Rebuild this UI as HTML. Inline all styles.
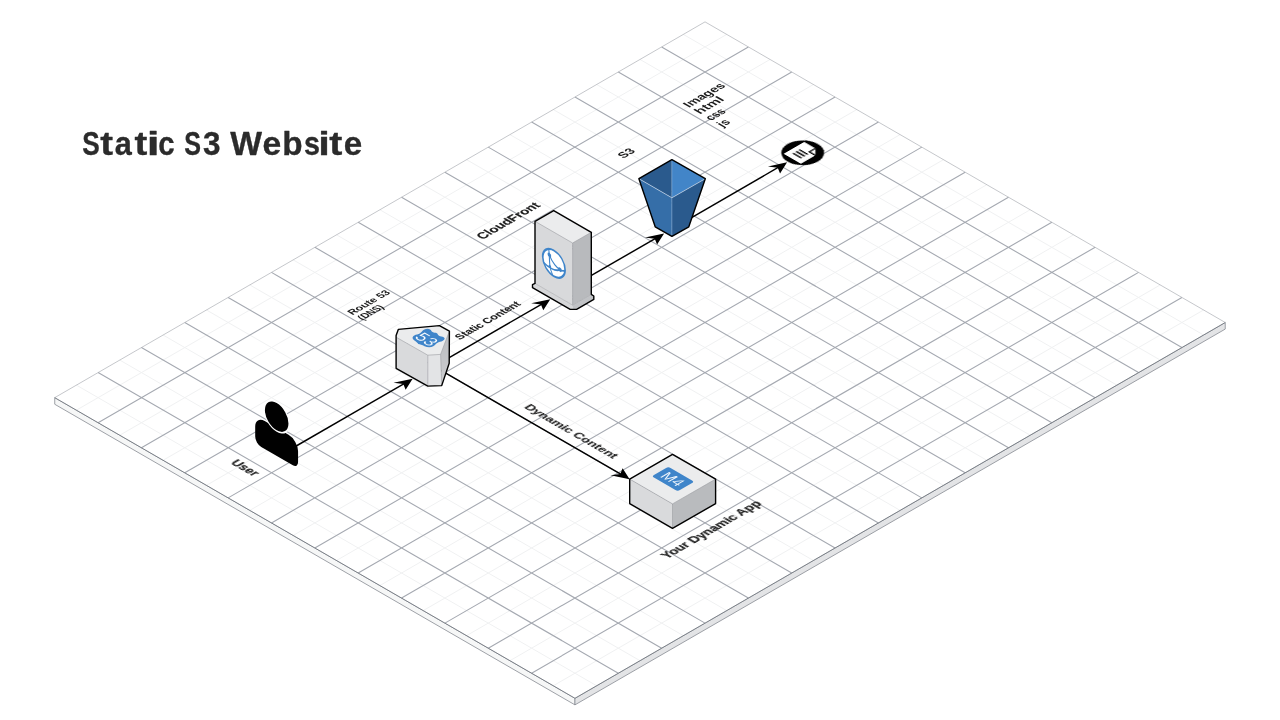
<!DOCTYPE html>
<html lang="en">
<head>
<meta charset="utf-8">
<title>Static S3 Website</title>
<style>
html,body{margin:0;padding:0;background:#fff;}
body{width:1280px;height:720px;overflow:hidden;position:relative;font-family:"Liberation Sans",Arial,sans-serif;}
h1{position:absolute;left:81px;top:124px;margin:0;font-size:33.5px;line-height:38px;font-weight:700;color:#2b2b2b;white-space:nowrap;letter-spacing:0;}
svg{position:absolute;left:0;top:0;display:block;}
</style>
</head>
<body>
<svg width="1280" height="720" viewBox="0 0 1280 720">
<g opacity="0.999">
<g id="platform">
<polygon points="54.74,397.65 574.96,698.27 574.96,704.87 54.74,404.25" fill="#f6f7f7" stroke="#868a92" stroke-width="0.8" stroke-linejoin="round"/>
<polygon points="574.96,698.27 1225.24,322.49 1225.24,329.09 574.96,704.87" fill="#e3e4e6" stroke="#868a92" stroke-width="0.8" stroke-linejoin="round"/>
<polygon points="54.74,397.65 705.02,21.87 1225.24,322.49 574.96,698.27" fill="#ffffff"/>
<path d="M76.42,385.12 L596.64,685.75 M119.77,360.07 L639.99,660.70 M163.12,335.02 L683.34,635.64 M206.47,309.97 L726.70,610.59 M249.82,284.92 L770.05,585.54 M293.18,259.86 L813.40,560.49 M336.53,234.81 L856.75,535.44 M379.88,209.76 L900.10,510.38 M423.23,184.71 L943.46,485.33 M466.58,159.66 L986.81,460.28 M509.94,134.60 L1030.16,435.23 M553.29,109.55 L1073.51,410.18 M596.64,84.50 L1116.86,385.12 M639.99,59.45 L1160.22,360.07 M683.34,34.40 L1203.57,335.02 M76.42,410.18 L726.70,34.40 M119.77,435.23 L770.05,59.45 M163.12,460.28 L813.40,84.50 M206.47,485.33 L856.75,109.55 M249.82,510.38 L900.10,134.60 M293.18,535.44 L943.46,159.66 M336.53,560.49 L986.81,184.71 M379.88,585.54 L1030.16,209.76 M423.23,610.59 L1073.51,234.81 M466.58,635.64 L1116.86,259.86 M509.94,660.70 L1160.22,284.92 M553.29,685.75 L1203.57,309.97" stroke="#f0f1f2" stroke-width="1" fill="none"/>
<path d="M98.09,372.60 L618.32,673.22 M141.44,347.55 L661.67,648.17 M184.80,322.49 L705.02,623.12 M228.15,297.44 L748.37,598.07 M271.50,272.39 L791.72,573.01 M314.85,247.34 L835.08,547.96 M358.20,222.29 L878.43,522.91 M401.56,197.23 L921.78,497.86 M444.91,172.18 L965.13,472.81 M488.26,147.13 L1008.48,447.75 M531.61,122.08 L1051.84,422.70 M574.96,97.03 L1095.19,397.65 M618.32,71.97 L1138.54,372.60 M661.67,46.92 L1181.89,347.55 M98.09,422.70 L748.37,46.92 M141.44,447.75 L791.72,71.97 M184.80,472.81 L835.08,97.03 M228.15,497.86 L878.43,122.08 M271.50,522.91 L921.78,147.13 M314.85,547.96 L965.13,172.18 M358.20,573.01 L1008.48,197.23 M401.56,598.07 L1051.84,222.29 M444.91,623.12 L1095.19,247.34 M488.26,648.17 L1138.54,272.39 M531.61,673.22 L1181.89,297.44" stroke="#a5a9b1" stroke-width="1.1" fill="none"/>
<path d="M54.74,397.65 L705.02,21.87 L1225.24,322.49" stroke="#a6a9af" stroke-width="0.65" fill="none"/>
<path d="M54.74,397.65 L574.96,698.27 L1225.24,322.49" stroke="#7b8088" stroke-width="1.0" fill="none" stroke-linejoin="round"/>
</g>
<g id="labels" opacity="0.999" font-family="'Liberation Sans', Arial, sans-serif" font-weight="700" fill="#1c1c1c" stroke="#1c1c1c" stroke-width="0.2" stroke-linejoin="round">
<text transform="matrix(0.8660,0.5000,-0.8660,0.5000,229.90,463.30)" font-size="12" textLength="27.0" lengthAdjust="spacingAndGlyphs">User</text>
<text transform="matrix(0.8660,-0.5000,0.8660,0.5000,352.50,315.30)" font-size="10.3" textLength="44.6" lengthAdjust="spacingAndGlyphs" stroke="none">Route 53</text>
<text transform="matrix(0.8660,-0.5000,0.8660,0.5000,362.60,320.40)" font-size="10.3" textLength="25.6" lengthAdjust="spacingAndGlyphs" stroke="none">(DNS)</text>
<text transform="matrix(0.8660,-0.5000,0.8660,0.5000,482.50,239.70)" font-size="12.3" textLength="67.7" lengthAdjust="spacingAndGlyphs">CloudFront</text>
<text transform="matrix(0.8660,-0.5000,0.8660,0.5000,623.30,158.80)" font-size="11.5" textLength="14.6" lengthAdjust="spacingAndGlyphs" stroke="none">S3</text>
<text transform="matrix(0.8660,-0.5000,0.8660,0.5000,689.00,107.90)" font-size="12" textLength="43.0" lengthAdjust="spacingAndGlyphs" stroke="none">Images</text>
<text transform="matrix(0.8660,-0.5000,0.8660,0.5000,700.00,114.40)" font-size="12" textLength="29.0" lengthAdjust="spacingAndGlyphs" stroke="none">html</text>
<text transform="matrix(0.8660,-0.5000,0.8660,0.5000,711.00,121.00)" font-size="12" textLength="18.3" lengthAdjust="spacingAndGlyphs" stroke="none">css</text>
<text transform="matrix(0.8660,-0.5000,0.8660,0.5000,722.50,127.50)" font-size="12" textLength="10.0" lengthAdjust="spacingAndGlyphs" stroke="none">js</text>
<text transform="matrix(0.8660,-0.5000,0.8660,0.5000,460.10,340.00)" font-size="10.8" textLength="71.0" lengthAdjust="spacingAndGlyphs" stroke-width="0.1">Static Content</text>
<text transform="matrix(0.8660,0.5000,-0.8660,0.5000,523.50,407.50)" font-size="11.2" textLength="103.0" lengthAdjust="spacingAndGlyphs" stroke-width="0.1">Dynamic Content</text>
<text transform="matrix(0.8660,-0.5000,0.8660,0.5000,667.20,559.20)" font-size="12" textLength="110.0" lengthAdjust="spacingAndGlyphs">Your Dynamic App</text>
</g>
<g id="arrows">
<line x1="293.18" y1="447.75" x2="404.60" y2="383.36" stroke="#000" stroke-width="1.45"/><polygon points="412.65,378.71 393.51,382.76 403.30,384.11 405.64,389.76" fill="#000"/>
<line x1="442.74" y1="361.32" x2="542.24" y2="303.82" stroke="#000" stroke-width="1.45"/><polygon points="550.30,299.17 531.16,303.22 540.94,304.57 543.28,310.22" fill="#000"/>
<line x1="585.80" y1="278.65" x2="656.04" y2="238.06" stroke="#000" stroke-width="1.45"/><polygon points="664.10,233.41 644.96,237.46 654.74,238.81 657.08,244.46" fill="#000"/>
<line x1="689.85" y1="218.53" x2="779.03" y2="166.99" stroke="#000" stroke-width="1.45"/><polygon points="787.09,162.34 767.95,166.39 777.73,167.74 780.07,173.39" fill="#000"/>
<line x1="440.57" y1="370.09" x2="621.58" y2="474.69" stroke="#000" stroke-width="1.45"/><polygon points="629.63,479.34 622.62,468.29 620.28,473.94 610.49,475.29" fill="#000"/>
</g>
<g id="user" transform="matrix(0.8660,0.5000,0,1,255.2,443.6)">
<path d="M7,0 H43.5 A6,6 0 0 0 49.5,-6 V-17 A11,11 0 0 0 38.5,-28 H11 A11,11 0 0 0 0,-17 V-7 A7,7 0 0 0 7,0 Z" fill="#000"/>
<circle cx="24.8" cy="-39.3" r="15.1" fill="#fff"/>
<circle cx="24.8" cy="-39.3" r="13.6" fill="#000"/>
</g>
<g id="r53">
<defs><linearGradient id="gR" x1="0" y1="0" x2="0" y2="1"><stop offset="0" stop-color="#b9bbbe"/><stop offset="1" stop-color="#cdced1"/></linearGradient></defs>
<polygon points="396.10,335.60 398.30,329.40 439.40,325.60 449.40,331.10 440.60,354.40 427.80,355.20 396.10,337.20" fill="#ebeced"/>
<polygon points="396.10,337.20 427.80,355.20 427.80,386.10 396.10,368.30" fill="#d9dadc"/>
<polygon points="427.80,355.20 440.60,354.40 441.70,385.60 427.80,386.10" fill="#e3e4e6"/>
<polygon points="440.60,354.40 449.40,331.10 449.20,363.30 441.70,385.60" fill="url(#gR)"/>
<path d="M396.10,337.20 L427.80,355.20 L440.60,354.40 L449.40,331.10 M427.80,355.20 L427.80,386.10 M440.60,354.40 L441.70,385.60" stroke="#f4f4f5" stroke-width="0.8" fill="none" opacity="0"/>
<path d="M396.10,337.20 L427.80,355.20 L440.60,354.40 L449.40,331.10 M427.80,355.20 L427.80,386.10 M440.60,354.40 L441.70,385.60" stroke="#97999d" stroke-width="0.6" fill="none"/>
<g opacity="0.999" transform="matrix(0.8660,0.5000,-0.8660,0.5000,427.7,338.6) scale(1.06)">
<path d="M-10.3,-6.2 C-10.3,-8.6 -9,-10 -7.4,-10 C-6,-10 -5,-8.8 -3.5,-8.8 C-2,-8.8 -1.2,-10 0,-10 C1.2,-10 2,-8.8 3.5,-8.8 C5,-8.8 6,-10 7.4,-10 C9,-10 10.3,-8.6 10.3,-6.2 C10.3,-4.2 9.3,-3 9.3,-1 C9.3,1 10.3,2.3 10.3,4.3 C10.3,7 8.3,8.6 5.5,8.9 C3,9.2 1.2,9.5 0,10.3 C-1.2,9.5 -3,9.2 -5.5,8.9 C-8.3,8.6 -10.3,7 -10.3,4.3 C-10.3,2.3 -9.3,1 -9.3,-1 C-9.3,-3 -10.3,-4.2 -10.3,-6.2 Z" fill="#3f85ca"/>
<text x="0.2" y="6.6" text-anchor="middle" font-family="'Liberation Sans', Arial, sans-serif" font-size="15.5" letter-spacing="0.3" fill="#fff" stroke="#3f85ca" stroke-width="0.1">53</text>
</g>
<polygon points="398.30,329.40 439.40,325.60 449.40,331.10 449.20,363.30 441.70,385.60 427.80,386.10 396.10,368.30 396.10,335.60" fill="none" stroke="#000" stroke-width="1.4" stroke-linejoin="round"/>
</g>
<g id="cf">
<polygon points="535.00,283.40 532.50,284.60 532.50,287.70 570.20,309.40 576.60,309.40 593.80,299.40 593.80,296.00 591.30,294.30 572.60,305.10" fill="#d6d7d9"/>
<polygon points="572.60,305.10 591.30,294.30 593.80,296.00 593.80,299.40 576.60,309.40 573.40,309.40" fill="#c0c2c5"/>
<polygon points="535.00,221.30 553.70,210.60 591.30,232.30 572.60,243.00" fill="#ebeced"/>
<polygon points="535.00,221.30 572.60,243.00 572.60,305.10 535.00,283.40" fill="#d8d9db"/>
<polygon points="572.60,243.00 591.30,232.30 591.30,294.30 572.60,305.10" fill="#b8babd"/>
<path d="M535.00,221.30 L572.60,243.00 L591.30,232.30 M572.60,243.00 L572.60,305.10" stroke="#97999d" stroke-width="0.6" fill="none"/>
<path d="M535.00,283.40 L572.60,305.10 L591.30,294.30" stroke="#a6a8ab" stroke-width="0.6" fill="none"/>
<g transform="matrix(0.8660,0.5000,0,1,553.9,263.3)" fill="none" stroke="#3f85ca" stroke-linecap="round">
<circle cx="0" cy="0" r="12.9" fill="#fff" stroke-width="2"/>
<path d="M-5.9,-11 C-5,-6 -5.4,0 -4.6,4.7 C-4.2,7.5 -3.2,9.8 -1.8,11.8" stroke-width="1.3"/>
<path d="M-5.2,-5.7 C-3.5,-2.5 -1.5,-0.5 1,1 C3,2.2 5,2.8 7,2.9 C9,3 10.8,2.4 12.2,1.2" stroke-width="1.6"/>
<path d="M-11.6,5.2 C-9,6.3 -6,6.8 -3,6.7 C0.5,6.6 4,5.5 7,2.9" stroke-width="1.6"/>
<circle cx="-5.2" cy="-5.7" r="2.1" fill="#3f85ca" stroke="none"/>
<circle cx="7" cy="2.9" r="2.1" fill="#3f85ca" stroke="none"/>
<circle cx="-4.6" cy="5.6" r="1.5" fill="#3f85ca" stroke="none"/>
</g>
<polygon points="535.00,221.30 553.70,210.60 591.30,232.30 591.30,294.30 593.80,296.00 593.80,299.40 576.60,309.40 570.20,309.40 532.50,287.70 532.50,284.60 535.00,283.40" fill="none" stroke="#000" stroke-width="1.4" stroke-linejoin="round"/>
</g>
<g id="s3">
<polygon points="671.90,159.60 638.90,178.70 671.90,197.80" fill="#2a5a8d"/>
<polygon points="671.90,159.60 705.30,178.70 671.90,197.80" fill="#4285c8"/>
<polygon points="638.90,178.70 671.90,197.80 671.90,236.40 655.20,226.80" fill="#356ea8"/>
<polygon points="671.90,197.80 705.30,178.70 688.80,226.80 671.90,236.40" fill="#2a5a8d"/>
<path d="M638.90,178.70 L671.90,197.80 L705.30,178.70" stroke="#c5d6e8" stroke-width="0.7" fill="none"/>
<path d="M671.90,159.60 L671.90,197.80 L671.90,236.40" stroke="#9fc0e4" stroke-width="0.7" fill="none" opacity="0.6"/>
<polygon points="671.90,159.60 705.30,178.70 688.80,226.80 671.90,236.40 655.20,226.80 638.90,178.70" fill="none" stroke="#000" stroke-width="1.4" stroke-linejoin="round"/>
</g>
<g id="doc" transform="matrix(0.8660,0.5000,-0.8660,0.5000,802.7,152.8)">
<circle cx="0" cy="0" r="17.5" fill="#000"/>
<path d="M-10,-11.7 H2.9 L9.9,-4.7 V11.9 H-10 Z" fill="#fff"/>
<path d="M2.9,-11.7 V-4.7 H9.9" fill="none" stroke="#000" stroke-width="1.4"/>
<path d="M-5.2,-1.2 H4.6 M-5.2,2.4 H4.6 M-5.2,6 H4.6" stroke="#000" stroke-width="1.6" fill="none"/>
</g>
<g id="m4">
<polygon points="672.50,454.40 715.60,479.10 672.50,503.90 629.70,479.10" fill="#ebeced"/>
<polygon points="629.70,479.10 672.50,503.90 672.50,528.30 629.70,503.60" fill="#d9dadc"/>
<polygon points="672.50,503.90 715.60,479.10 715.60,503.60 672.50,528.30" fill="#b9bbbe"/>
<path d="M629.70,479.10 L672.50,503.90 L715.60,479.10 M672.50,503.90 L672.50,528.30" stroke="#97999d" stroke-width="0.6" fill="none"/>
<g opacity="0.999" transform="matrix(0.8660,0.5000,-0.8660,0.5000,673.0,479.0)">
<rect x="-15" y="-9.6" width="30" height="19.2" rx="2.6" fill="#3f85ca"/>
<text x="0" y="5.4" text-anchor="middle" font-family="'Liberation Sans', Arial, sans-serif" font-size="15" fill="#fff" stroke="#3f85ca" stroke-width="0.15">M4</text>
</g>
<polygon points="672.50,454.40 715.60,479.10 715.60,503.60 672.50,528.30 629.70,503.60 629.70,479.10" fill="none" stroke="#000" stroke-width="1.4" stroke-linejoin="round"/>
</g>
<text id="title" opacity="0.999" y="154.6" font-family="'Liberation Sans', Arial, sans-serif" font-weight="700" font-size="34" fill="#2b2b2b" stroke="#2b2b2b" stroke-width="0.35" stroke-linejoin="round"><tspan x="82.33" textLength="17.48" lengthAdjust="spacingAndGlyphs">S</tspan><tspan x="100.15" textLength="12.83" lengthAdjust="spacingAndGlyphs">t</tspan><tspan x="114.70" textLength="17.03" lengthAdjust="spacingAndGlyphs">a</tspan><tspan x="134.55" textLength="12.83" lengthAdjust="spacingAndGlyphs">t</tspan><tspan x="146.74" textLength="12.84" lengthAdjust="spacingAndGlyphs">i</tspan><tspan x="158.28" textLength="16.35" lengthAdjust="spacingAndGlyphs">c</tspan><tspan> </tspan><tspan x="184.26" textLength="16.76" lengthAdjust="spacingAndGlyphs">S</tspan><tspan x="203.01" textLength="17.51" lengthAdjust="spacingAndGlyphs">3</tspan><tspan> </tspan><tspan x="230.25" textLength="31.74" lengthAdjust="spacingAndGlyphs">W</tspan><tspan x="262.46" textLength="18.74" lengthAdjust="spacingAndGlyphs">e</tspan><tspan x="282.24" textLength="20.35" lengthAdjust="spacingAndGlyphs">b</tspan><tspan x="303.99" textLength="15.95" lengthAdjust="spacingAndGlyphs">s</tspan><tspan x="318.30" textLength="11.60" lengthAdjust="spacingAndGlyphs">i</tspan><tspan x="329.29" textLength="13.10" lengthAdjust="spacingAndGlyphs">t</tspan><tspan x="343.73" textLength="18.45" lengthAdjust="spacingAndGlyphs">e</tspan></text>
</g>
</svg>
</body>
</html>
